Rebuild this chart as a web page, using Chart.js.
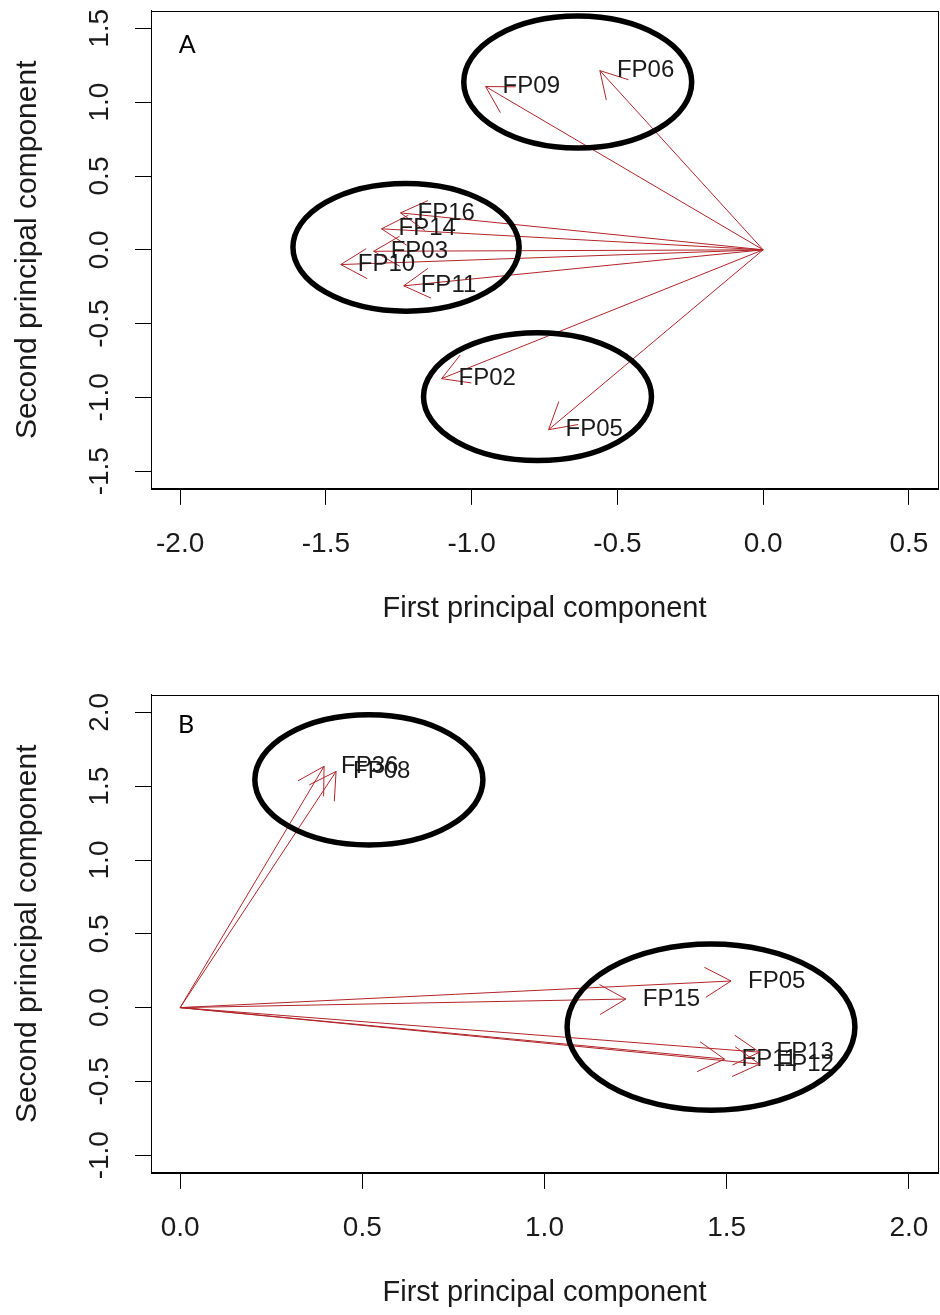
<!DOCTYPE html>
<html>
<head>
<meta charset="utf-8">
<script src="https://cdn.jsdelivr.net/npm/chart.js@4.4.0/dist/chart.umd.min.js"></script>
<style>
html,body{margin:0;padding:0;background:#fff;overflow:hidden;width:940px;height:1315px;}
.panel{position:absolute;left:0;width:940px;height:630px;}
#wrapA{top:0px;}
#wrapB{top:684.3px;}
canvas{display:block;}
</style>
</head>
<body>
<div class="panel" id="wrapA"><canvas id="chartA" width="940" height="630"></canvas></div>
<div class="panel" id="wrapB"><canvas id="chartB" width="940" height="630"></canvas></div>
<script>
// ---------- Panel A data ----------
const labelsA = ['FP06','FP09','FP16','FP14','FP03','FP10','FP11','FP02','FP05'];
const pc1A    = [-0.560,-0.952,-1.244,-1.309,-1.336,-1.449,-1.233,-1.103,-0.736];
const pc2A    = [ 1.214, 1.106, 0.250, 0.142,-0.010,-0.100,-0.244,-0.873,-1.219];
const xTicksA = [-2.0,-1.5,-1.0,-0.5,0.0,0.5];
const yTicksA = [-1.5,-1.0,-0.5,0.0,0.5,1.0,1.5];
const xLimA   = [-2.1, 0.6];
const yLimA   = [-1.62, 1.62];
// group ellipses (centre and radii in data units)
const ellCxA = [-0.636,-1.225,-0.774];
const ellCyA = [ 1.137, 0.017,-0.995];
const ellRxA = [ 0.391, 0.388, 0.391];
const ellRyA = [ 0.447, 0.433, 0.433];
const tagA = 'A';
const tagPosA = [-2.005, 1.388];

// ---------- Panel B data ----------
const labelsB = ['FP36','FP08','FP15','FP05','FP11','FP13','FP12'];
const pc1B    = [0.395,0.428,1.223,1.512,1.494,1.590,1.590];
const pc2B    = [1.635,1.600,0.058,0.180,-0.349,-0.302,-0.383];
const xTicksB = [0.0,0.5,1.0,1.5,2.0];
const yTicksB = [-1.0,-0.5,0.0,0.5,1.0,1.5,2.0];
const xLimB   = [-0.08, 2.08];
const yLimB   = [-1.12, 2.12];
const ellCxB = [0.518, 1.457];
const ellCyB = [1.543,-0.132];
const ellRxB = [0.313, 0.395];
const ellRyB = [0.441, 0.563];
const tagB = 'B';
const tagPosB = [-0.006, 1.917];

const xTitle = 'First principal component';
const yTitle = 'Second principal component';

Chart.defaults.font.family = "'Liberation Sans', Arial, sans-serif";
Chart.defaults.animation = false;

const ARROW_COLOR = '#b02428';

function zeroPad(s) { s.paddingLeft = 0; s.paddingRight = 0; s.paddingTop = 0; s.paddingBottom = 0; }

function makePanel(canvasId, labels, pc1, pc2, xTicks, yTicks, xLim, yLim, ex, ey, erx, ery, tag, tagPos) {
  const datasets = labels.map((lab, i) => ({
    label: lab,
    data: [{x: 0, y: 0}, {x: pc1[i], y: pc2[i]}],
    showLine: true,
    borderColor: ARROW_COLOR,
    borderWidth: 1,
    pointRadius: 0,
    pointHoverRadius: 0,
    fill: false
  }));

  const decor = {
    id: 'decor_' + canvasId,
    afterDatasetsDraw(chart) {
      const ctx = chart.ctx;
      const xs = chart.scales.x, ys = chart.scales.y;
      const ca = chart.chartArea;
      ctx.save();
      // arrow heads + labels
      chart.data.datasets.forEach((ds, i) => {
        const meta = chart.getDatasetMeta(i);
        const p0 = meta.data[0], p1 = meta.data[1];
        const ang = Math.atan2(p1.y - p0.y, p1.x - p0.x);
        const L = 30, A = Math.PI / 6;
        ctx.strokeStyle = ARROW_COLOR;
        ctx.lineWidth = 1;
        ctx.beginPath();
        ctx.moveTo(p1.x - L * Math.cos(ang - A), p1.y - L * Math.sin(ang - A));
        ctx.lineTo(p1.x, p1.y);
        ctx.lineTo(p1.x - L * Math.cos(ang + A), p1.y - L * Math.sin(ang + A));
        ctx.stroke();
        ctx.fillStyle = '#1a1a1a';
        ctx.font = "24px 'Liberation Sans', Arial, sans-serif";
        ctx.textAlign = 'left';
        ctx.textBaseline = 'middle';
        ctx.fillText(ds.label, p1.x + 17, p1.y);
      });
      // plot box
      ctx.strokeStyle = '#000';
      ctx.lineWidth = 1;
      ctx.strokeRect(Math.round(ca.left) + 0.5, Math.round(ca.top) + 0.5,
                     Math.round(ca.right - ca.left), Math.round(ca.bottom - ca.top));
      // group ellipses
      ctx.strokeStyle = '#000';
      ctx.lineWidth = 5.5;
      for (let k = 0; k < ex.length; k++) {
        const cx = xs.getPixelForValue(ex[k]);
        const cy = ys.getPixelForValue(ey[k]);
        const rx = Math.abs(xs.getPixelForValue(ex[k] + erx[k]) - cx);
        const ry = Math.abs(ys.getPixelForValue(ey[k] + ery[k]) - cy);
        ctx.beginPath();
        ctx.ellipse(cx, cy, rx, ry, 0, 0, Math.PI * 2);
        ctx.stroke();
      }
      // panel tag
      ctx.fillStyle = '#000';
      ctx.font = "25px Lato, 'Open Sans', sans-serif";
      ctx.textAlign = 'left';
      ctx.textBaseline = 'middle';
      ctx.fillText(tag, xs.getPixelForValue(tagPos[0]), ys.getPixelForValue(tagPos[1]));
      ctx.restore();
    }
  };

  return new Chart(document.getElementById(canvasId), {
    type: 'scatter',
    data: {datasets},
    options: {
      responsive: false,
      maintainAspectRatio: false,
      animation: false,
      layout: {padding: {top: 10.7, right: 2, left: 0, bottom: 0}},
      plugins: {legend: {display: false}, tooltip: {enabled: false}},
      events: [],
      scales: {
        x: {
          type: 'linear',
          position: 'bottom',
          min: xLim[0], max: xLim[1],
          afterBuildTicks: s => { s.ticks = xTicks.map(v => ({value: v})); },
          afterFit: s => { s.height = 141.1; zeroPad(s); },
          ticks: {
            callback: v => Number(v).toFixed(1),
            font: {size: 28},
            color: '#1a1a1a',
            padding: 22.9,
            minRotation: 0, maxRotation: 0,
            autoSkip: false
          },
          grid: {display: true, drawOnChartArea: false, drawTicks: true, tickLength: 16, color: '#000', lineWidth: 1},
          border: {display: true, color: '#000', width: 1},
          title: {display: true, text: xTitle, font: {size: 29}, color: '#1a1a1a', padding: {top: 0, bottom: 3.4}}
        },
        y: {
          type: 'linear',
          position: 'left',
          min: yLim[0], max: yLim[1],
          afterBuildTicks: s => { s.ticks = yTicks.map(v => ({value: v})); },
          afterFit: s => { s.width = 151; zeroPad(s); },
          ticks: {
            callback: v => Number(v).toFixed(1),
            font: {size: 28},
            color: '#1a1a1a',
            padding: 11,
            minRotation: 90, maxRotation: 90,
            crossAlign: 'center',
            autoSkip: false
          },
          grid: {display: true, drawOnChartArea: false, drawTicks: true, tickLength: 16, color: '#000', lineWidth: 1},
          border: {display: true, color: '#000', width: 1},
          title: {display: true, text: yTitle, font: {size: 30}, color: '#1a1a1a', padding: {top: 10, bottom: 0}}
        }
      }
    },
    plugins: [decor]
  });
}

makePanel('chartA', labelsA, pc1A, pc2A, xTicksA, yTicksA, xLimA, yLimA, ellCxA, ellCyA, ellRxA, ellRyA, tagA, tagPosA);
makePanel('chartB', labelsB, pc1B, pc2B, xTicksB, yTicksB, xLimB, yLimB, ellCxB, ellCyB, ellRxB, ellRyB, tagB, tagPosB);
</script>
</body>
</html>
